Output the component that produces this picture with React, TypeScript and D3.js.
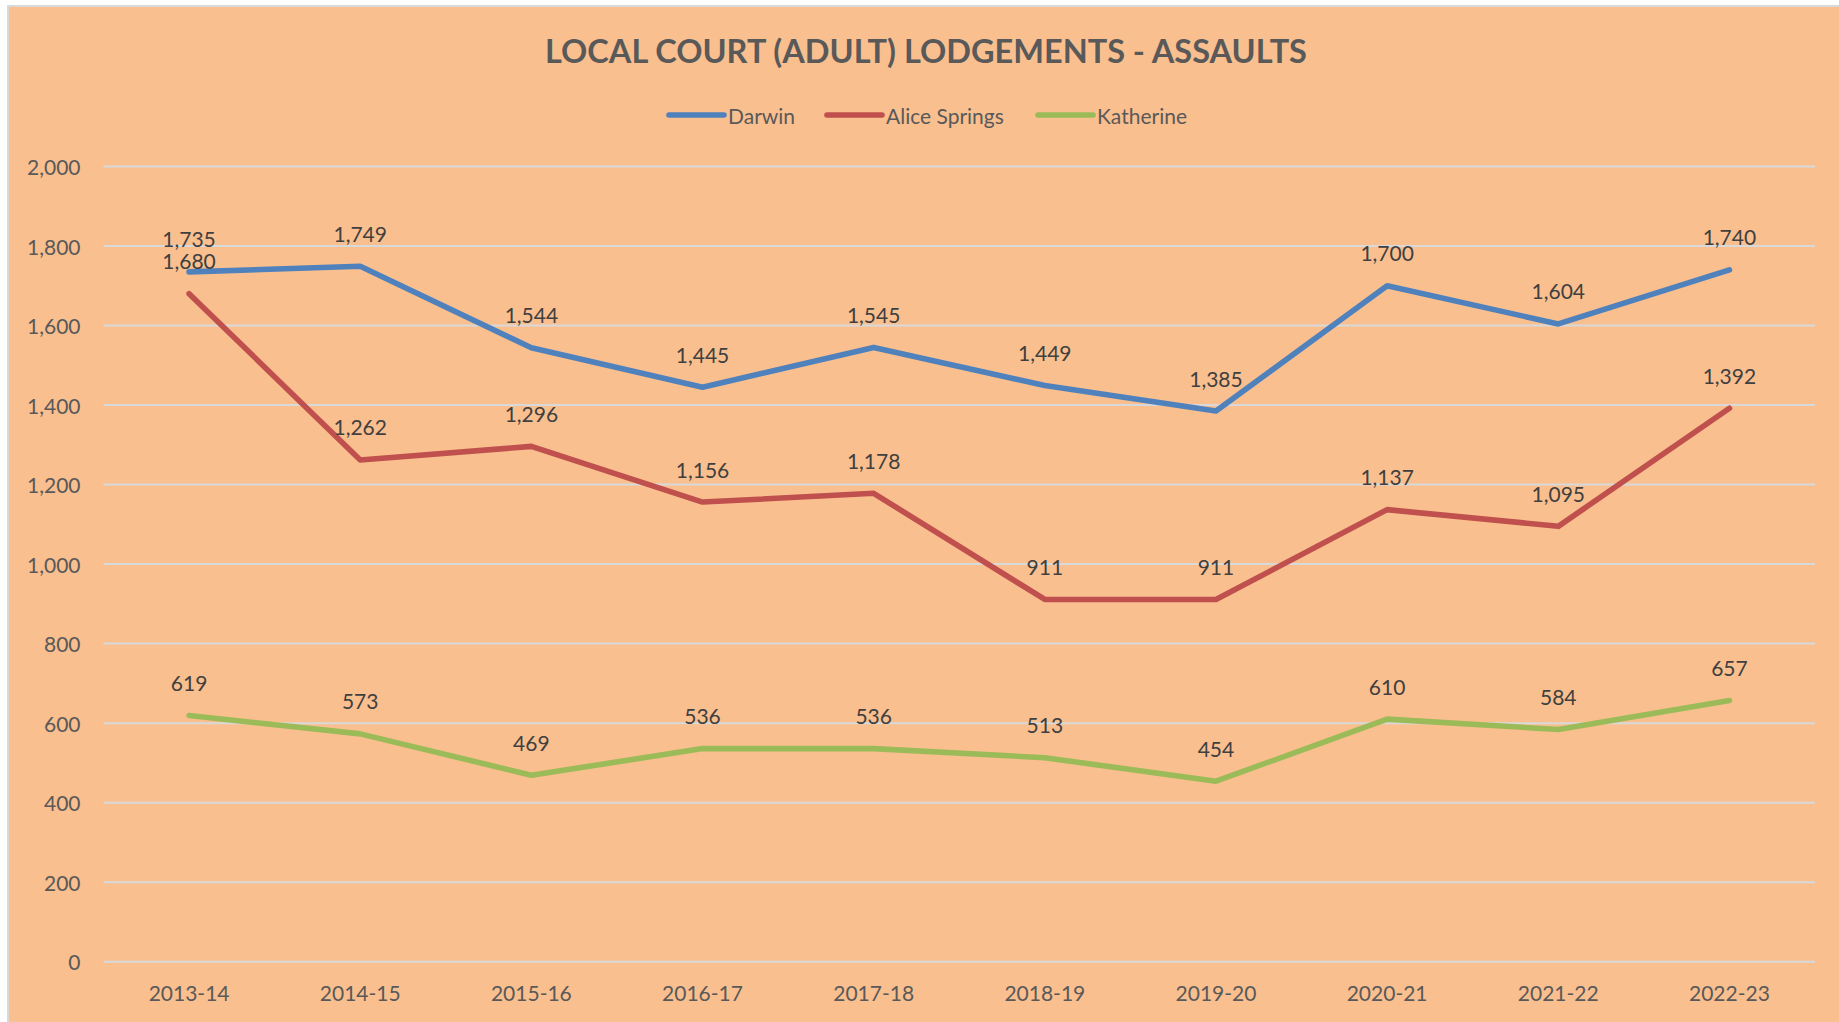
import React, { useEffect } from "react";
import * as d3 from "d3";

const categories = ["2013-14", "2014-15", "2015-16", "2016-17", "2017-18", "2018-19", "2019-20", "2020-21", "2021-22", "2022-23"];
const darwin = [1735, 1749, 1544, 1445, 1545, 1449, 1385, 1700, 1604, 1740];
const aliceSprings = [1680, 1262, 1296, 1156, 1178, 911, 911, 1137, 1095, 1392];
const katherine = [619, 573, 469, 536, 536, 513, 454, 610, 584, 657];
const yTicks = [0, 200, 400, 600, 800, 1000, 1200, 1400, 1600, 1800, 2000];
const seriesNames = ["Darwin", "Alice Springs", "Katherine"];
const seriesColors = ["#4F81BD", "#C0504D", "#9BBB59"];
const title = "LOCAL COURT (ADULT) LODGEMENTS - ASSAULTS";

const W = 1839;
const H = 1022;
const FONT = "Lato, 'Open Sans', sans-serif";

export default function App() {
  useEffect(() => {
    document.body.style.margin = "0";
  }, []);

  const x = d3.scalePoint<string>().domain(categories).range([103.5, 1815]).padding(0.5);
  const y = d3.scaleLinear().domain([0, 2000]).range([961.7, 166.5]);
  const line = d3
    .line<number>()
    .x((_, i) => x(categories[i]) as number)
    .y((d) => y(d));
  const fmt = d3.format(",");
  const series = [darwin, aliceSprings, katherine];

  const legendItems = [
    { lx1: 669, lx2: 724, tx: 728 },
    { lx1: 827, lx2: 882, tx: 886 },
    { lx1: 1038, lx2: 1093, tx: 1097 },
  ];

  return (
    <svg width={W} height={H} style={{ display: "block" }}>
      <rect x={0} y={0} width={W} height={H} fill="#ffffff" />
      <rect x={8} y={6} width={W} height={H} fill="#F9BF8F" stroke="#D9D9D9" strokeWidth={2} />
      <text x={926} y={63} textAnchor="middle" fontFamily={FONT} fontWeight="bold" fontSize={32.5} fill="#595959">
        {title}
      </text>
      {seriesNames.map((n, i) => (
        <g key={n}>
          <line x1={legendItems[i].lx1} x2={legendItems[i].lx2} y1={115} y2={115} stroke={seriesColors[i]} strokeWidth={5.6} strokeLinecap="round" />
          <text x={legendItems[i].tx} y={115} dominantBaseline="central" fontFamily={FONT} fontSize={21} fill="#595959">
            {n}
          </text>
        </g>
      ))}
      {yTicks.map((t) => (
        <g key={t}>
          <line x1={103.5} x2={1815} y1={y(t)} y2={y(t)} stroke="#D9D9D9" strokeWidth={2} />
          <text x={80.5} y={y(t)} textAnchor="end" dominantBaseline="central" fontFamily={FONT} fontSize={21} fill="#595959">
            {fmt(t)}
          </text>
        </g>
      ))}
      {categories.map((c) => (
        <text key={c} x={x(c)} y={992} textAnchor="middle" dominantBaseline="central" fontFamily={FONT} fontSize={21} fill="#595959">
          {c}
        </text>
      ))}
      {series.map((s, i) => (
        <path key={i} d={line(s) || ""} fill="none" stroke={seriesColors[i]} strokeWidth={5.6} strokeLinecap="round" strokeLinejoin="round" />
      ))}
      {series.map((s, i) => (
        <g key={"l" + i}>
          {s.map((v, j) => (
            <text key={j} x={x(categories[j])} y={y(v) - 24.5} textAnchor="middle" fontFamily={FONT} fontSize={21} fill="#404040">
              {fmt(v)}
            </text>
          ))}
        </g>
      ))}
    </svg>
  );
}
